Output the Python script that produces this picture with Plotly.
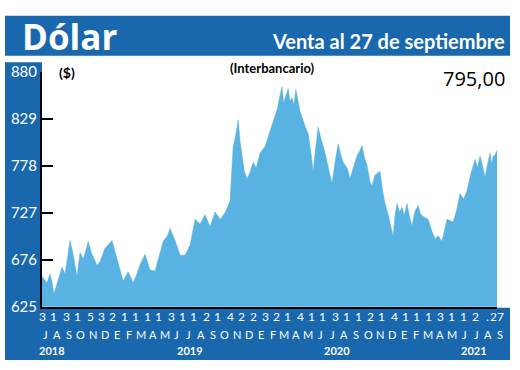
import plotly.graph_objects as go

# ---- data ----
dates = ["2018-07-02","2018-07-09","2018-07-15","2018-07-23","2018-07-28","2018-08-02","2018-08-10",
         "2018-08-16","2018-08-23","2018-08-31","2018-09-06","2018-09-13","2018-09-20","2018-10-01",
         "2018-10-09","2018-10-17","2018-10-24","2018-10-30","2018-11-08","2018-11-22","2018-11-30",
         "2018-12-12","2018-12-31","2019-01-13","2019-01-22","2019-01-29","2019-02-11","2019-02-24",
         "2019-03-05","2019-03-14","2019-03-27","2019-04-09","2019-04-22","2019-05-02","2019-05-13",
         "2019-05-24","2019-05-31","2019-06-13","2019-06-26","2019-07-09","2019-07-22","2019-08-04",
         "2019-08-17","2019-08-30","2019-09-12","2019-09-25","2019-10-08","2019-10-21","2019-11-03",
         "2019-11-07","2019-11-11","2019-11-18","2019-11-24","2019-11-29","2019-12-04","2019-12-10",
         "2019-12-17","2019-12-24","2020-01-02","2020-01-10","2020-01-20","2020-02-02","2020-02-12",
         "2020-02-23","2020-03-05","2020-03-12","2020-03-17","2020-03-21","2020-03-25","2020-04-02",
         "2020-04-07","2020-04-12","2020-04-17","2020-04-22","2020-04-28","2020-05-03","2020-05-16",
         "2020-05-24","2020-06-01","2020-06-06","2020-06-12","2020-06-19","2020-06-26","2020-07-07",
         "2020-07-16","2020-07-25","2020-08-03","2020-08-10","2020-08-17","2020-08-23","2020-09-03",
         "2020-09-10","2020-09-20","2020-09-28","2020-10-05","2020-10-11","2020-10-18","2020-10-24",
         "2020-11-01","2020-11-06","2020-11-14","2020-11-27","2020-12-04","2020-12-10","2020-12-20",
         "2020-12-31","2021-01-05","2021-01-10","2021-01-17","2021-01-23","2021-01-29","2021-02-05",
         "2021-02-12","2021-02-18","2021-02-25","2021-03-06","2021-03-12","2021-03-19","2021-04-01",
         "2021-04-10","2021-04-19","2021-04-27","2021-05-07","2021-05-14","2021-05-20","2021-06-05",
         "2021-06-14","2021-06-23","2021-07-02","2021-07-11","2021-07-20","2021-08-01","2021-08-07",
         "2021-08-14","2021-08-20","2021-08-27","2021-09-03","2021-09-09","2021-09-13","2021-09-17",
         "2021-09-22","2021-09-27"]
values = [658,654,651,661,652,639,650,660,668,661,680,697,684,658,
          684,677,686,696,683,670,674,688,697,677,664,653,663,651,
          660,671,682,665,664,680,696,702,710,697,681,681,692,720,
          715,725,712,728,720,727,740,770,799,812,828,805,792,772,
          764,770,782,776,792,799,812,826,840,855,864,846,851,862,
          848,852,844,861,848,837,821,813,790,772,796,820,808,792,
          775,759,785,802,790,782,775,764,778,789,794,800,786,779,
          760,756,768,772,750,737,722,701,725,737,728,733,724,737,
          722,713,728,735,726,723,720,708,699,702,696,708,720,717,
          730,748,742,751,768,785,776,789,778,766,781,792,780,788,
          790,795]

y_ticks = [625, 676, 727, 778, 829, 880]

# first trading day of each month (label row 1)
month_starts = ["2018-07-03","2018-08-01","2018-09-03","2018-10-01","2018-11-05","2018-12-03",
                "2019-01-02","2019-02-01","2019-03-01","2019-04-01","2019-05-01","2019-06-03",
                "2019-07-01","2019-08-01","2019-09-02","2019-10-01","2019-11-04","2019-12-02",
                "2020-01-02","2020-02-03","2020-03-02","2020-04-01","2020-05-04","2020-06-01",
                "2020-07-01","2020-08-03","2020-09-01","2020-10-01","2020-11-02","2020-12-01",
                "2021-01-04","2021-02-01","2021-03-01","2021-04-01","2021-05-03","2021-06-01",
                "2021-07-01","2021-08-02","2021-09-01","2021-09-27"]
day_labels = ["3","1","3","1","5","3",
              "2","1","1","1","1","3","1","1","2","1","4","2",
              "2","3","2","1","4","1","1","3","1","1","2","1",
              "4","1","1","1","3","1","1","2",".","27"]
month_letters = ["J","A","S","O","N","D",
                 "E","F","M","A","M","J","J","A","S","O","N","D",
                 "E","F","M","A","M","J","J","A","S","O","N","D",
                 "E","F","M","A","M","J","J","A","S"]
years = ["2018","2019","2020","2021"]
last_value = "795,00"

# ---- styling ----
W, H = 520, 370
BLUE = "#1967ac"
FILL = "#58b3e3"
NARROW = "Lato, Roboto, sans-serif"

def px(x):
    return x / W

def py(y):
    return (H - y) / H

fig = go.Figure()
fig.add_trace(go.Scatter(x=dates, y=values, mode="lines", fill="tozeroy",
                         fillcolor=FILL, line=dict(color=FILL, width=0.5),
                         hoverinfo="skip"))

shapes = [
    dict(type="rect", xref="paper", yref="paper", x0=px(5), x1=px(510), y0=py(48), y1=py(6),
         fillcolor=BLUE, line=dict(width=0), layer="below"),
    dict(type="rect", xref="paper", yref="paper", x0=px(5), x1=px(42), y0=py(368), y1=py(55),
         fillcolor=BLUE, line=dict(width=0), layer="below"),
    dict(type="rect", xref="paper", yref="paper", x0=px(5), x1=px(510), y0=py(368), y1=py(313),
         fillcolor=BLUE, line=dict(width=0), layer="below"),
]

ann = [
    dict(text="<b>Dólar</b>", x=px(20), y=py(28), xref="paper", yref="paper", xanchor="left",
         yanchor="middle", showarrow=False, font=dict(family="Open Sans", size=35, color="white")),
    dict(text="<b>Venta al 27 de septiembre</b>", x=px(507), y=py(33), xref="paper", yref="paper",
         xanchor="right", yanchor="middle", showarrow=False,
         font=dict(family=NARROW, size=20, color="white")),
    dict(text="<b>(Interbancario)</b>", x=px(272), y=py(61), xref="paper", yref="paper",
         xanchor="center", yanchor="middle", showarrow=False,
         font=dict(family=NARROW, size=13, color="black")),
    dict(text="<b>($)</b>", x=px(57), y=py(66), xref="paper", yref="paper",
         xanchor="left", yanchor="middle", showarrow=False,
         font=dict(family=NARROW, size=14, color="black")),
    dict(text=last_value, x=px(507), y=py(72), xref="paper", yref="paper",
         xanchor="right", yanchor="middle", showarrow=False,
         font=dict(family="Open Sans", size=20, color="black")),
]

for d, lab in zip(month_starts, day_labels):
    ann.append(dict(text=lab, x=d, y=py(322), xref="x", yref="paper", xanchor="center",
                    yanchor="middle", showarrow=False,
                    font=dict(family=NARROW, size=12, color="white")))

n = len(month_letters)
for i, lab in enumerate(month_letters):
    xp = 45 + i * (500 - 45) / (n - 1)
    ann.append(dict(text=lab, x=px(xp), y=py(341), xref="paper", yref="paper", xanchor="center",
                    yanchor="middle", showarrow=False,
                    font=dict(family=NARROW, size=11, color="white")))

year_px = [52, 190, 337, 474]
for yr, xp in zip(years, year_px):
    ann.append(dict(text="<b>" + yr + "</b>", x=px(xp), y=py(358), xref="paper", yref="paper",
                    xanchor="center", yanchor="middle", showarrow=False,
                    font=dict(family=NARROW, size=11, color="white")))

fig.update_layout(
    width=W, height=H, margin=dict(l=0, r=0, t=0, b=0),
    paper_bgcolor="white", plot_bgcolor="white", showlegend=False,
    shapes=shapes, annotations=ann,
    xaxis=dict(domain=[px(42), px(497)], range=["2018-07-02", "2021-09-27"],
               showgrid=False, zeroline=False, showticklabels=False, ticks="",
               showline=True, linecolor="black", linewidth=2, fixedrange=True),
    yaxis=dict(domain=[py(312), py(65)], range=[625, 880], tickvals=y_ticks,
               showgrid=False, zeroline=False, showline=True, linecolor="black", linewidth=2,
               ticks="inside", ticklen=11, tickwidth=2, tickcolor="black",
               tickfont=dict(family=NARROW, size=15, color="white"), fixedrange=True),
)

fig.write_html("out.html", config={"displayModeBar": False},
               post_script="document.body.style.margin='0';document.body.style.padding='0';")
